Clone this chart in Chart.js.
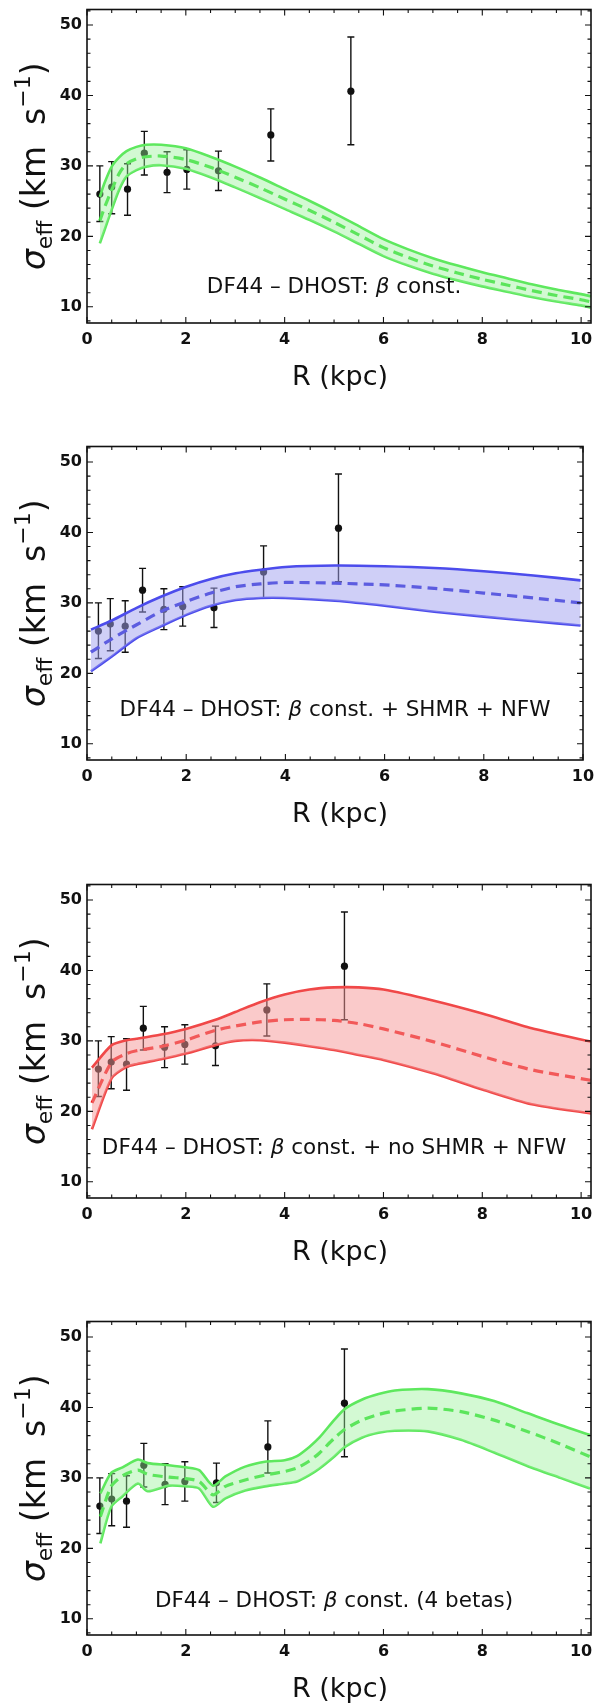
<!DOCTYPE html>
<html><head><meta charset="utf-8">
<script src="https://cdn.jsdelivr.net/npm/chart.js@4"></script>
<style>
html,body{margin:0;padding:0;background:#fff}
body{width:595px;height:1708px;position:relative;overflow:hidden}
canvas{position:absolute;left:0}
</style></head><body>
<canvas id="c0" width="595" height="437" style="top:0px"></canvas>
<canvas id="c1" width="595" height="437" style="top:437px"></canvas>
<canvas id="c2" width="595" height="437" style="top:875px"></canvas>
<canvas id="c3" width="595" height="437" style="top:1312px"></canvas>
<script>
// ---------- data ----------
const xTicks = [0, 2, 4, 6, 8, 10];
const yTicks = [10, 20, 30, 40, 50];

const obsSigma = [26.0, 27.0, 26.7, 31.8, 29.1, 29.5, 29.3, 34.4, 40.6];
const obsHi    = [30.0, 30.6, 30.3, 34.9, 32.0, 32.3, 32.1, 38.1, 48.3];
const obsLo    = [22.1, 23.2, 23.0, 28.7, 26.2, 26.7, 26.5, 30.7, 33.0];

const obsR1 = [0.26, 0.50, 0.82, 1.16, 1.62, 2.02, 2.66, 3.72, 5.34];
const obsR2 = [0.23, 0.47, 0.77, 1.12, 1.55, 1.93, 2.56, 3.56, 5.07];
const obsR3 = [0.23, 0.49, 0.80, 1.14, 1.57, 1.98, 2.60, 3.64, 5.21];
const obsR4 = [0.26, 0.50, 0.80, 1.15, 1.58, 1.98, 2.62, 3.66, 5.21];

// Panel 1: beta const.
const r1   = [0.26,0.35,0.5,0.65,0.8,1.0,1.2,1.5,2.0,2.5,3.0,3.5,4.0,4.5,5.0,5.5,6.0,6.5,7.0,7.5,8.0,8.5,9.0,9.5,10.0,10.2];
const up1  = [25.6,27.5,29.9,31.2,32.1,32.7,33.0,33.0,32.5,31.3,29.9,28.35,26.7,25.05,23.3,21.45,19.6,18.15,16.9,15.85,14.9,14.05,13.2,12.45,11.8,11.5];
const mid1 = [22.2,24.0,26.6,28.9,30.3,31.0,31.3,31.4,30.9,29.8,28.4,26.9,25.3,23.7,22.0,20.2,18.4,17.0,15.8,14.8,13.9,13.1,12.3,11.6,11.0,10.7];
const lo1  = [19.0,20.8,23.8,26.6,28.5,29.4,29.9,30.1,29.6,28.4,26.95,25.45,23.9,22.35,20.7,18.95,17.2,15.85,14.7,13.75,12.9,12.15,11.4,10.75,10.2,9.9];

// Panel 2: beta const. + SHMR + NFW
const r2   = [0.08,0.5,1.0,1.5,2.0,2.5,3.0,3.5,4.0,5.0,6.0,7.0,8.0,9.0,9.95];
const up2  = [26.2,27.5,29.3,30.9,32.3,33.4,34.2,34.7,35.1,35.3,35.2,34.95,34.5,33.9,33.2];
const mid2 = [23.0,24.9,26.9,28.8,30.2,31.4,32.3,32.7,32.9,32.8,32.55,32.05,31.4,30.7,30.0];
const lo2  = [20.3,22.4,25.0,26.7,28.3,29.6,30.4,30.7,30.7,30.3,29.6,28.75,28.05,27.4,26.8];

// Panel 3: beta const. + no SHMR + NFW
const r3   = [0.1,0.5,0.8,1.0,1.5,2.0,2.6,3.0,3.5,4.0,4.5,5.0,5.5,6.0,7.0,8.0,9.0,10.2];
const up3  = [26.2,29.4,30.1,30.3,30.9,31.7,33.0,34.1,35.5,36.6,37.3,37.6,37.6,37.3,35.75,33.9,31.8,29.9];
const mid3 = [21.2,27.0,28.2,28.6,29.2,30.1,31.5,32.1,32.7,33.0,33.05,32.9,32.45,31.7,29.9,27.8,25.9,24.4];
const lo3  = [17.45,24.7,26.3,26.7,27.4,28.2,29.4,30.0,30.1,29.75,29.25,28.7,28.0,27.3,25.4,23.1,21.0,19.7];

// Panel 4: beta const. (4 betas)
const r4   = [0.27,0.49,0.72,1.03,1.23,1.66,2.0,2.27,2.55,2.8,3.2,3.6,4.0,4.25,4.5,4.7,5.0,5.22,5.56,5.9,6.23,6.9,7.57,8.24,8.91,9.58,10.18];
const up4  = [27.8,30.7,31.5,32.6,32.1,31.8,31.5,31.1,28.9,30.2,31.6,32.3,32.5,33.1,34.4,35.7,38.2,39.8,41.1,41.9,42.4,42.6,42.0,40.9,39.2,37.5,36.1];
const mid4 = [24.5,28.8,30.3,31.1,30.5,30.1,29.9,29.5,27.6,28.8,29.7,30.4,30.9,31.4,32.4,33.5,35.6,36.9,38.2,39.0,39.5,39.9,39.4,38.2,36.6,34.8,33.0];
const lo4  = [20.7,25.9,27.4,29.2,28.1,28.9,28.8,28.5,25.9,27.1,28.2,28.8,29.2,29.5,30.4,31.3,33.0,34.4,35.7,36.4,36.7,36.6,35.4,33.6,31.7,30.0,28.5];

const panelLabels = [
  'DF44 – DHOST: β const.',
  'DF44 – DHOST: β const. + SHMR + NFW',
  'DF44 – DHOST: β const. + no SHMR + NFW',
  'DF44 – DHOST: β const. (4 betas)'
];

// ---------- styling / layout ----------
const FONT = '"DejaVu Sans", "Liberation Sans", sans-serif';
const panels = [
  {id:'c0', obsR:obsR1, r:r1, up:up1, mid:mid1, lo:lo1, xMax:10.2, padRight:1,
   line:'#5ee85e', dash:'#33dd33', fill:'rgba(150,240,150,0.42)', label:panelLabels[0], lx:5.0, ly:12.7},
  {id:'c1', obsR:obsR2, r:r2, up:up2, mid:mid2, lo:lo2, xMax:10.0, padRight:12,
   line:'#4c4cec', dash:'#1818d0', fill:'rgba(160,160,240,0.5)', label:panelLabels[1], lx:5.0, ly:14.8},
  {id:'c2', obsR:obsR3, r:r3, up:up3, mid:mid3, lo:lo3, xMax:10.2, padRight:1,
   line:'#f04848', dash:'#ee1c1c', fill:'rgba(245,150,150,0.5)', label:panelLabels[2], lx:5.0, ly:14.8},
  {id:'c3', obsR:obsR4, r:r4, up:up4, mid:mid4, lo:lo4, xMax:10.2, padRight:1,
   line:'#5ee85e', dash:'#33dd33', fill:'rgba(150,240,150,0.42)', label:panelLabels[3], lx:5.0, ly:12.45}
];

const YMIN = 7.7, YMAX = 52.2;

function pts(xs, ys){ return xs.map((x,i)=>({x:x, y:ys[i]})); }

const framePlugin = {
  id:'frame',
  beforeDatasetsDraw(chart, args, opts){
    const ctx = chart.ctx, xs = chart.scales.x, ys = chart.scales.y, p = opts.panel;
    ctx.save();
    ctx.strokeStyle = '#111'; ctx.lineWidth = 1.4;
    p.obsR.forEach((r,i)=>{
      const x = xs.getPixelForValue(r);
      const y1 = ys.getPixelForValue(obsLo[i]), y2 = ys.getPixelForValue(obsHi[i]);
      ctx.beginPath();
      ctx.moveTo(x, y1); ctx.lineTo(x, y2);
      ctx.moveTo(x-3.5, y1); ctx.lineTo(x+3.5, y1);
      ctx.moveTo(x-3.5, y2); ctx.lineTo(x+3.5, y2);
      ctx.stroke();
    });
    ctx.restore();
  },
  afterDraw(chart, args, opts){
    const ctx = chart.ctx, a = chart.chartArea, xs = chart.scales.x, ys = chart.scales.y, p = opts.panel;
    ctx.save();
    ctx.strokeStyle = '#111';
    ctx.lineWidth = 1.6;
    ctx.strokeRect(a.left, a.top, a.right - a.left, a.bottom - a.top);
    ctx.lineWidth = 1.1;
    ctx.beginPath();
    for (let k = 0; k <= Math.floor(p.xMax*2 + 1e-6); k++) {
      const v = k/2, x = xs.getPixelForValue(v);
      const L = (k % 4 === 0) ? 6 : 3.5;
      ctx.moveTo(x, a.bottom); ctx.lineTo(x, a.bottom - L);
      ctx.moveTo(x, a.top); ctx.lineTo(x, a.top + L);
    }
    for (let v = 8; v <= 52; v += 2) {
      const y = ys.getPixelForValue(v);
      const L = (v % 10 === 0) ? 6 : 3.5;
      ctx.moveTo(a.left, y); ctx.lineTo(a.left + L, y);
      ctx.moveTo(a.right, y); ctx.lineTo(a.right - L, y);
    }
    ctx.stroke();

    // annotation text
    ctx.fillStyle = '#111';
    ctx.textBaseline = 'middle';
    const parts = p.label.split('β');
    const fN = '21.5px ' + FONT, fI = 'italic 21.5px ' + FONT;
    ctx.font = fN; const w0 = ctx.measureText(parts[0]).width, w2 = ctx.measureText(parts[1]).width;
    ctx.font = fI; const w1 = ctx.measureText('β').width;
    let x0 = xs.getPixelForValue(p.lx) - (w0+w1+w2)/2;
    const yT = ys.getPixelForValue(p.ly);
    ctx.textAlign = 'left';
    ctx.font = fN; ctx.fillText(parts[0], x0, yT);
    ctx.font = fI; ctx.fillText('β', x0 + w0, yT);
    ctx.font = fN; ctx.fillText(parts[1], x0 + w0 + w1, yT);

    // x-axis title
    ctx.font = '27px ' + FONT;
    ctx.textAlign = 'center';
    ctx.textBaseline = 'middle';
    ctx.fillText('R (kpc)', 340, 378);

    // y-axis title (rotated, with sub/superscripts)
    const cy = (a.top + a.bottom)/2;
    ctx.translate(45, cy);
    ctx.rotate(-Math.PI/2);
    ctx.textBaseline = 'alphabetic';
    const big = 33, small = 22;
    const segs = [
      {t:'σ', f:'italic ' + big + 'px ' + FONT, dy:0},
      {t:'eff', f:small + 'px ' + FONT, dy:7},
      {t:' (km  s', f:big + 'px ' + FONT, dy:0},
      {t:'−1', f:small + 'px ' + FONT, dy:-15},
      {t:')', f:big + 'px ' + FONT, dy:0}
    ];
    let W = 0;
    segs.forEach(s=>{ ctx.font = s.f; s.w = ctx.measureText(s.t).width; W += s.w; });
    let cx = -W/2;
    ctx.textAlign = 'left';
    segs.forEach(s=>{ ctx.font = s.f; ctx.fillText(s.t, cx, s.dy); cx += s.w; });
    ctx.restore();
  }
};

panels.forEach(p=>{
  new Chart(document.getElementById(p.id), {
    type:'line',
    data:{datasets:[
      {data:pts(p.r, p.up), borderColor:p.line, borderWidth:2.6, pointRadius:0, fill:'+2', backgroundColor:p.fill, tension:0.25},
      {data:pts(p.r, p.mid), borderColor:p.dash, borderWidth:3.2, borderDash:[10,6], pointRadius:0, fill:false, tension:0.25},
      {data:pts(p.r, p.lo), borderColor:p.line, borderWidth:2.6, pointRadius:0, fill:false, tension:0.25},
      {data:pts(p.obsR, obsSigma), showLine:false, pointRadius:3.6, pointBackgroundColor:'#111', pointBorderColor:'#111', pointBorderWidth:0, fill:false}
    ]},
    options:{
      responsive:false, animation:false, events:[],
      layout:{padding:{top:9.5, right:p.padRight, left:0, bottom:0}},
      plugins:{legend:{display:false}, tooltip:{enabled:false}, frame:{panel:p}},
      scales:{
        x:{type:'linear', min:0, max:p.xMax,
           grid:{display:false, drawTicks:false}, border:{display:false},
           ticks:{color:'#111', font:{family:FONT, size:16, weight:'bold'}, padding:7, maxRotation:0, autoSkip:false},
           afterBuildTicks:s=>{ s.ticks = xTicks.map(v=>({value:v})); },
           afterFit:s=>{ s.height = 114; s.paddingLeft = 0; s.paddingRight = 0; }},
        y:{type:'linear', min:YMIN, max:YMAX,
           grid:{display:false, drawTicks:false}, border:{display:false},
           ticks:{color:'#111', font:{family:FONT, size:16, weight:'bold'}, padding:5, autoSkip:false},
           afterBuildTicks:s=>{ s.ticks = yTicks.map(v=>({value:v})); },
           afterFit:s=>{ s.width = 87; s.paddingTop = 0; s.paddingBottom = 0; }}
      }
    },
    plugins:[framePlugin]
  });
});
</script>
</body></html>
